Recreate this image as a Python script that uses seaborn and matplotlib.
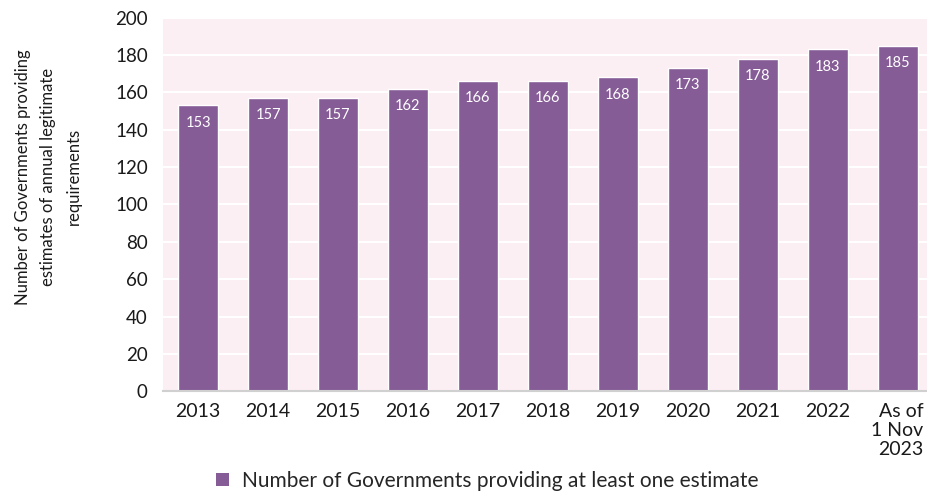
import matplotlib
matplotlib.use("Agg")
import matplotlib.pyplot as plt
import seaborn as sns
import pandas as pd
from matplotlib.patches import Patch

categories = ["2013", "2014", "2015", "2016", "2017", "2018", "2019", "2020", "2021", "2022", "As of\n1 Nov\n2023"]
values = [153, 157, 157, 162, 166, 166, 168, 173, 178, 183, 185]
series_name = "Number of Governments providing at least one estimate"
y_label = "Number of Governments providing\nestimates of annual legitimate\nrequirements"
y_ticks = list(range(0, 201, 20))

sns.set_theme(style="white")
plt.rcParams['font.family'] = ['Lato', 'DejaVu Sans']

df = pd.DataFrame({"cat": categories, "val": values})

fig = plt.figure(figsize=(9.27, 4.93), dpi=100)
ax = fig.add_axes([0.176, 0.206, 0.824, 0.7585])
ax.set_facecolor("#FCEFF4")

bar_color = "#865C97"
sns.barplot(data=df, x="cat", y="val", color=bar_color, saturation=1, width=0.57, ax=ax, zorder=3)

ax.set_ylim(0, 200)
ax.set_xlim(-0.5, len(categories) - 0.58)
ax.set_yticks(y_ticks)
ax.yaxis.grid(True, color="white", linewidth=1.5, zorder=1)
ax.set_axisbelow(True)
for s in ["top", "right", "left"]:
    ax.spines[s].set_visible(False)
ax.spines["bottom"].set_color("#D0D0D0")
ax.spines["bottom"].set_linewidth(1.5)
ax.spines["bottom"].set_zorder(4)

ax.tick_params(axis="both", length=0, colors="#1a1a1a")
ax.tick_params(axis="x", pad=8, labelsize=14)
ax.tick_params(axis="y", pad=11, labelsize=13.5)
ax.set_xlabel("")
ax.set_ylabel(y_label, fontsize=12, color="#1a1a1a", linespacing=1.7)
ax.yaxis.set_label_coords(-0.107, 0.574)
for lbl in ax.get_xticklabels():
    lbl.set_verticalalignment("top")
    lbl.set_linespacing(1.15)
    lbl.set_multialignment("right")

for i, v in enumerate(values):
    ax.text(i, v - 5.5, str(v), ha="center", va="top", color="white", fontsize=10.5, zorder=5)

handle = Patch(facecolor=bar_color, edgecolor="none")
fig.legend([handle], [series_name], loc="lower left", bbox_to_anchor=(0.213, -0.034),
           frameon=False, fontsize=15, handlelength=0.62, handleheight=0.62, handletextpad=0.6)

fig.savefig("out.png", dpi=100)
